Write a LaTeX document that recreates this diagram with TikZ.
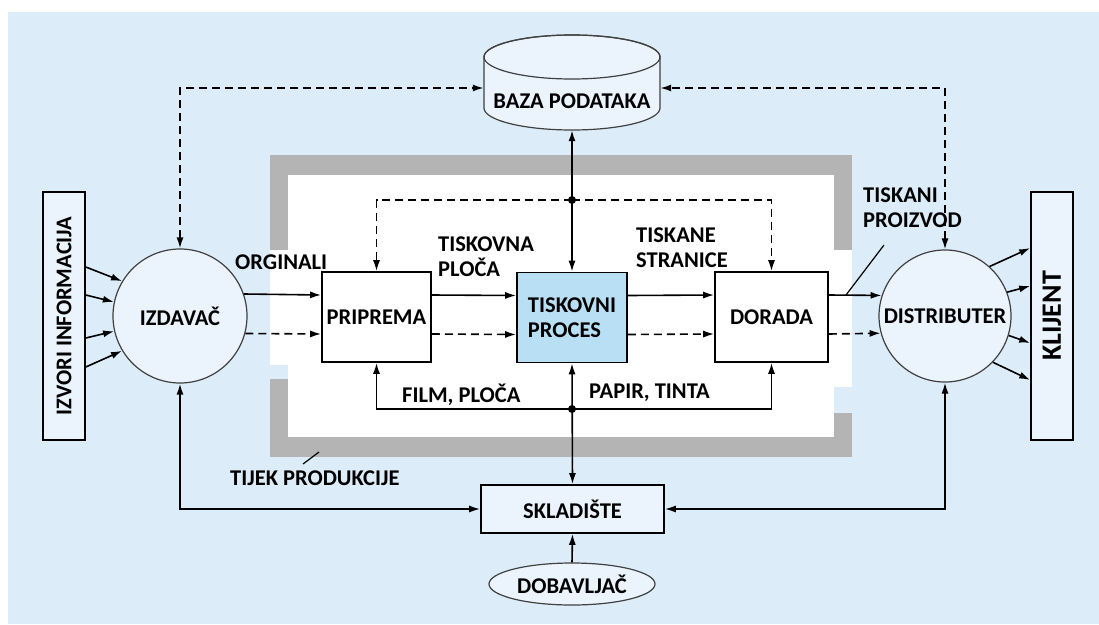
\documentclass[tikz,border=0pt]{standalone}
\usepackage{fontspec}
\setmainfont{Carlito}
\usetikzlibrary{positioning,shapes.geometric,arrows.meta}

\definecolor{pozadina}{HTML}{DCEDF9}
\definecolor{svijetla}{HTML}{EBF4FC}
\definecolor{proces}{HTML}{B9DFF5}
\definecolor{okvir}{HTML}{B4B4B4}

\begin{document}
\begin{tikzpicture}[x=1pt,y=-1pt,
        >={Latex[length=11pt,width=7pt]},
        every node/.style={font=\fontsize{22.5}{25}\selectfont\bfseries},
        kutija/.style={draw,line width=1.6pt,fill=white,minimum width=#1,minimum height=90pt,inner sep=0pt},
        krug/.style={circle,draw=black!75,line width=1.2pt,fill=svijetla,minimum size=#1,inner sep=0pt},
        stup/.style={draw,line width=1.6pt,fill=svijetla,minimum width=42pt,minimum height=248pt,inner sep=0pt},
        oznaka/.style={anchor=west,align=left,inner sep=0pt},
        tok/.style={line width=1.6pt},
        isprek/.style={line width=1.6pt,dash pattern=on 8pt off 5pt},
        cvor/.style={circle,fill=black,inner sep=0pt,minimum size=8pt}]
    \useasboundingbox (0,0) rectangle (1099,624);
    \fill[pozadina] (8,12) rectangle (1099,624);

    % okvir produkcije
    \fill[okvir] (270,155) rectangle (852,457);
    \fill[white] (288,175) rectangle (834,437);
    \fill[white] (270,250) rectangle (288,365);
    \fill[pozadina] (270,365) rectangle (288,379);
    \fill[white] (834,250) rectangle (852,387);
    \fill[pozadina] (834,387) rectangle (852,413);

    % baza podataka (valjak)
    \draw[fill=svijetla,draw=black!75,line width=1.2pt] (484,57) -- (484,108) arc (180:0:88 and 22) -- (660,57) arc (0:-180:88 and 22) -- cycle;
    \draw[draw=black!75,line width=1.2pt] (572,57) ellipse (88 and 22);

    % cvorovi
    \node[stup] (izvori) at (64,316) {\rotatebox{90}{IZVORI INFORMACIJA}};
    \node[krug=134pt] (izdavac) at (180,316) {IZDAVAČ};
    \node[kutija=109pt] (priprema) at (376.5,317) {PRIPREMA};
    \node[kutija=110pt,fill=proces,align=left] (tiskovni) at (572,317.5) {TISKOVNI\\PROCES};
    \node[kutija=113pt] (dorada) at (771.5,317) {DORADA};
    \node[krug=132pt] (distributer) at (945,316) {DISTRIBUTER};
    \node[stup] (klijent) at (1052,316) {\rotatebox{90}{\fontsize{28}{30}\selectfont\bfseries KLIJENT}};
    \node[minimum width=176pt,minimum height=58pt,inner sep=0pt] (baza) at (572,101) {BAZA PODATAKA};
    \node[draw,line width=1.6pt,fill=svijetla,minimum width=183pt,minimum height=48pt] (skladiste) at (572.5,509) {SKLADIŠTE};
    \node[ellipse,draw=black!75,line width=1.2pt,fill=svijetla,minimum width=166pt,minimum height=42pt,inner sep=0pt] (dobavljac) at (572,584) {DOBAVLJAČ};
    \coordinate (jgore) at (572,200);
    \coordinate (jdolje) at (572,409);

    % oznake
    \node[oznaka] (lorg) at (235,262) {ORGINALI};
    \node[oznaka] (lploca) at (438,257) {TISKOVNA\\PLOČA};
    \node[oznaka] (lstr) at (636,248) {TISKANE\\STRANICE};
    \node[oznaka] (lproizvod) at (863,208) {TISKANI\\PROIZVOD};
    \node[oznaka] (lfilm) at (402,395) {FILM, PLOČA};
    \node[oznaka] (lpapir) at (589,393) {PAPIR, TINTA};
    \node[oznaka] (ltijek) at (230,478) {TIJEK PRODUKCIJE};

    % ulazi i izlazi
    \foreach \s/\a in {49/149,21/168,-22/193,-51/211}
        \draw[tok,->] ([yshift=\s pt]izvori.east) -- (izdavac.\a);
    \foreach \a/\s in {48/68,21/30,-17/-27,-44/-64}
        \draw[tok,->] (distributer.\a) -- ([yshift=\s pt]klijent.west);

    % glavni tok
    \draw[tok,->] (izdavac.19) -- ([yshift=22pt]priprema.west);
    \draw[isprek,->] (izdavac.-15) -- ([yshift=-17pt]priprema.west);
    \draw[tok,->] ([yshift=22pt]priprema.east) -- ([yshift=22pt]tiskovni.west);
    \draw[isprek,->] ([yshift=-17pt]priprema.east) -- ([yshift=-17pt]tiskovni.west);
    \draw[tok,->] ([yshift=22pt]tiskovni.east) -- ([yshift=22pt]dorada.west);
    \draw[isprek,->] ([yshift=-17pt]tiskovni.east) -- ([yshift=-17pt]dorada.west);
    \draw[tok,->] ([yshift=22pt]dorada.east) -- (distributer.162);
    \draw[isprek,->] ([yshift=-17pt]dorada.east) -- (distributer.195);

    % baza podataka
    \draw[isprek,<->] (izdavac.north) |- ([yshift=13pt]baza.west);
    \draw[isprek,<->] (distributer.north) |- ([yshift=13pt]baza.east);
    \draw[tok,<->] (baza.south) -- (tiskovni.north);
    \draw[isprek,->] (jgore) -| (priprema.north);
    \draw[isprek,->] (jgore) -| (dorada.north);
    \node[cvor] at (jgore) {};

    % skladiste
    \draw[tok,<->] (tiskovni.south) -- (skladiste.north);
    \draw[tok,->] (jdolje) -| (priprema.south);
    \draw[tok,->] (jdolje) -| (dorada.south);
    \node[cvor] at (jdolje) {};
    \draw[tok,<->] (izdavac.south) |- (skladiste.west);
    \draw[tok,<->] (distributer.south) |- (skladiste.east);
    \draw[tok,->] (dobavljac.north) -- (skladiste.south);

    % pokazivaci
    \draw[line width=1.2pt] ([shift={(21pt,-37pt)}]lproizvod.west) -- (846,295);
    \draw[line width=1.2pt] ([shift={(73pt,14pt)}]ltijek.west) -- (319,452);
\end{tikzpicture}
\end{document}
